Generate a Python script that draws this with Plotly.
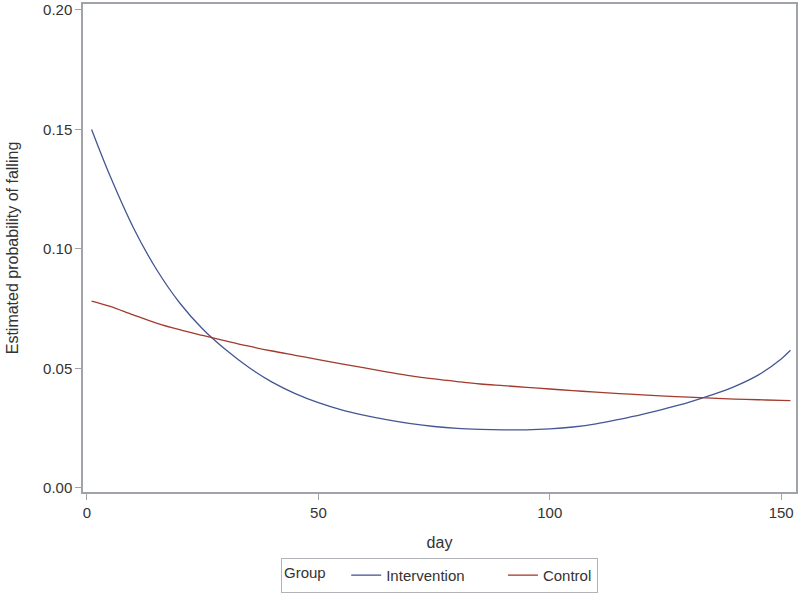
import plotly.graph_objects as go

# days sampled along the fitted curves
days = [1, 5, 10, 15, 20, 25, 30, 35, 40, 45, 50, 55, 60, 65, 70, 75, 80,
        85, 90, 95, 100, 105, 110, 115, 120, 125, 130, 135, 140, 145, 150, 152]

intervention = [0.150, 0.1305, 0.109, 0.0915, 0.0775, 0.0665, 0.0578, 0.0504, 0.0443,
                0.0395, 0.0357, 0.0327, 0.0304, 0.0285, 0.0269, 0.0257, 0.0249,
                0.0245, 0.0243, 0.0243, 0.0247, 0.0255, 0.0268, 0.0287, 0.0308,
                0.0332, 0.0358, 0.0389, 0.0425, 0.0472, 0.0540, 0.0576]

control = [0.0782, 0.0760, 0.0724, 0.0690, 0.0662, 0.0638, 0.0615, 0.0593, 0.0573,
           0.0555, 0.0537, 0.0519, 0.0502, 0.0485, 0.0469, 0.0456, 0.0445,
           0.0435, 0.0428, 0.0421, 0.0414, 0.0407, 0.0401, 0.0395, 0.0389,
           0.0384, 0.0380, 0.0376, 0.0372, 0.0369, 0.0366, 0.0365]

x_ticks = [0, 50, 100, 150]
y_ticks = [0.00, 0.05, 0.10, 0.15, 0.20]

font = "Liberation Sans, Arial, sans-serif"

fig = go.Figure()
fig.add_trace(go.Scatter(x=days, y=intervention, mode="lines", name="Intervention" + " " * 8,
                         line=dict(color="#445694", width=1.3, shape="spline")))
fig.add_trace(go.Scatter(x=days, y=control, mode="lines", name="Control",
                         line=dict(color="#A23A2E", width=1.3, shape="spline")))

axis_style = dict(showline=True, linecolor="#A0A4A8", linewidth=1.5, mirror=True,
                  showgrid=False, zeroline=False, ticks="outside", ticklen=6,
                  tickcolor="#A0A4A8", automargin=False,
                  tickfont=dict(size=15, color="#333333", family=font))

fig.update_layout(
    width=800, height=593,
    margin=dict(l=83, r=4, t=4, b=101, autoexpand=False),
    paper_bgcolor="white", plot_bgcolor="white",
    font=dict(family=font, color="#333333"),
    xaxis=dict(range=[-0.86, 153.2], tickvals=x_ticks,
               title=dict(text="day", font=dict(size=16, color="#333333"), standoff=17),
               **axis_style),
    yaxis=dict(range=[-0.0017, 0.2025], tickvals=y_ticks, tickformat=".2f",
               title=dict(text="Estimated probability of falling",
                          font=dict(size=16, color="#333333"), standoff=20),
               **axis_style),
    legend=dict(orientation="h", x=0.5, xanchor="center", y=-0.135, yanchor="top",
                title=dict(text="Group   ", font=dict(size=15)),
                font=dict(size=15, color="#333333"),
                bordercolor="#B0B4B8", borderwidth=1, tracegroupgap=0),
)

fig.write_html("out.html", config={"displayModeBar": False},
               post_script="document.body.style.margin='0';")
